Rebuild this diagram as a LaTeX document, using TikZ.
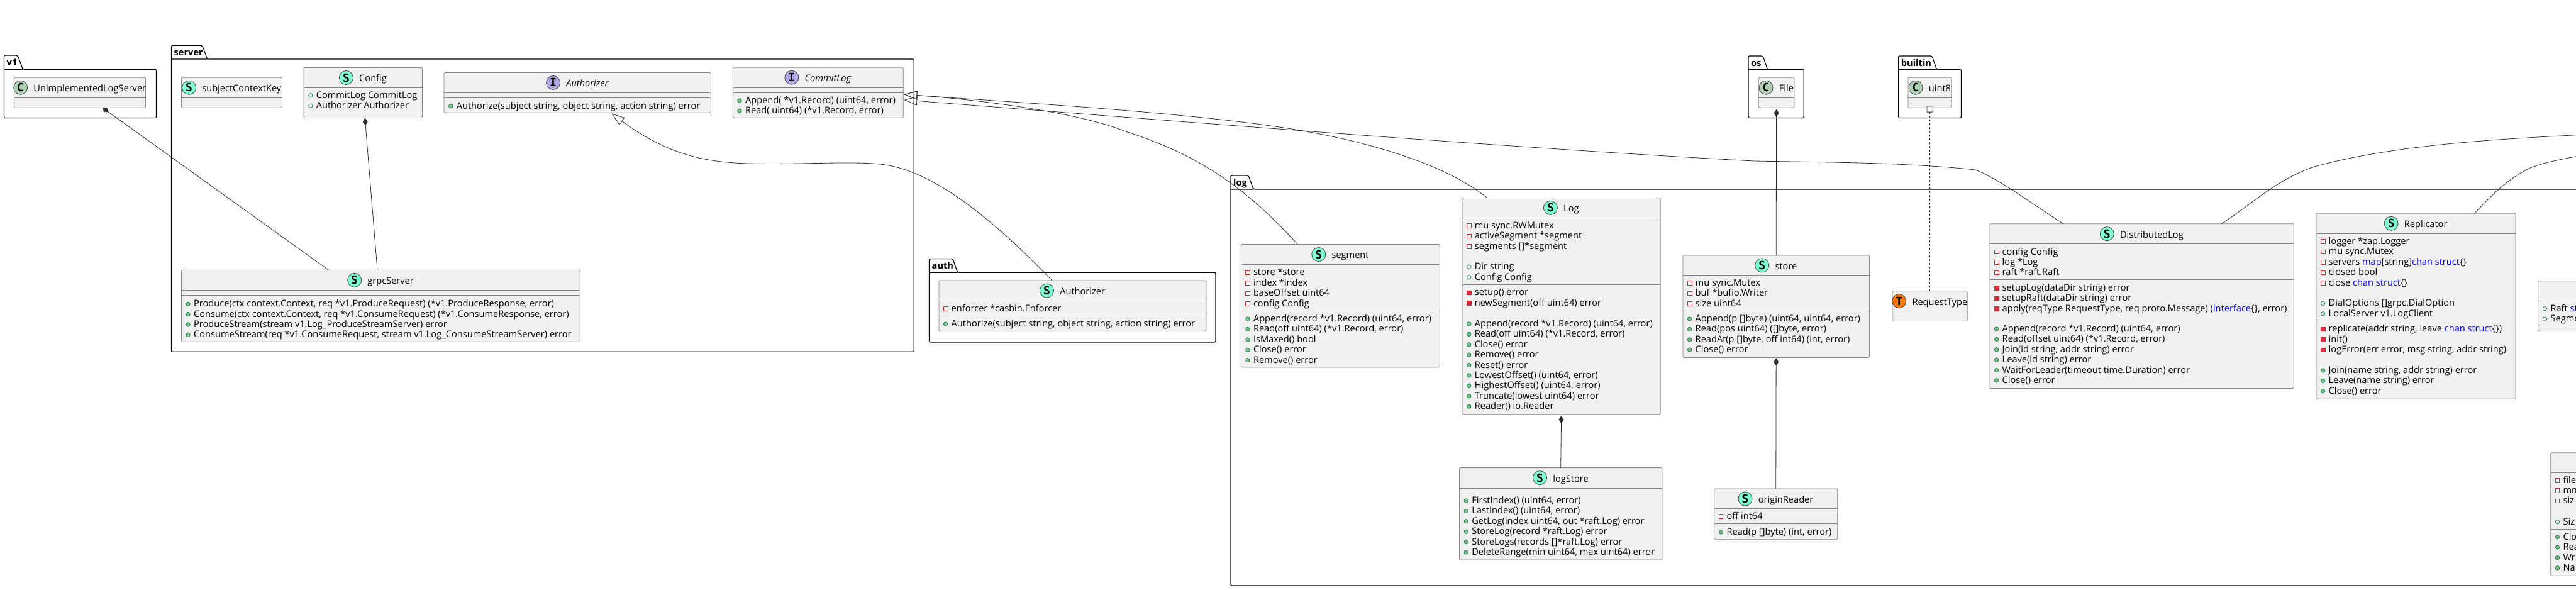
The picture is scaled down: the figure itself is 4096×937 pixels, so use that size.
\documentclass[tikz,border=0pt]{standalone}
\usepackage{fontspec}
\usetikzlibrary{arrows.meta,calc}
\setmainfont{Open Sans}
\newfontfamily\spotfont{DejaVu Sans Mono}[Scale=1]

\definecolor{boxfill}{HTML}{F1F1F1}
\definecolor{boxline}{HTML}{858585}
\definecolor{spotS}{HTML}{7FFFD4}
\definecolor{spotC}{HTML}{ADD1B2}
\definecolor{spotI}{HTML}{B4A7E5}
\definecolor{spotT}{HTML}{FF7700}
\definecolor{edgeline}{HTML}{2A2A2A}
\definecolor{publicLine}{HTML}{038048}
\definecolor{publicFill}{HTML}{84BE84}
\definecolor{privateLine}{HTML}{C82930}
\definecolor{privateFill}{HTML}{E0303E}

\newcommand{\rowfont}{\fontsize{14.6}{16}\selectfont}
\newcommand{\kw}[1]{\textcolor{blue}{#1}}

\tikzset{
    classbox/.style={draw=boxline,fill=boxfill,line width=0.8pt,rounded corners=1.5pt,
        anchor=north west,inner sep=0pt,outer sep=0pt},
    classline/.style={draw=boxline,line width=0.8pt},
    packageline/.style={draw=black,line width=1.2pt,rounded corners=2pt},
    packagelabel/.style={anchor=base west,inner sep=0pt,font=\rowfont\bfseries},
    classname/.style={anchor=base,inner sep=0pt,font=\rowfont},
    rowlabel/.style={anchor=base west,inner sep=0pt,font=\rowfont},
    spot/.style={circle,draw=black!80,line width=0.7pt,minimum size=22pt,inner sep=0pt,
        font=\fontsize{18}{18}\selectfont\spotfont\bfseries},
    publicMethod/.style={circle,draw=publicLine,fill=publicFill,line width=0.7pt,minimum size=6.5pt,inner sep=0pt},
    publicField/.style={circle,draw=publicLine,line width=0.7pt,minimum size=6.5pt,inner sep=0pt},
    privateField/.style={rectangle,draw=privateLine,line width=0.7pt,minimum size=6.5pt,inner sep=0pt},
    privateMethod/.style={rectangle,draw=privateLine,fill=privateFill,line width=0.7pt,minimum size=6.5pt,inner sep=0pt},
    edge/.style={draw=edgeline,line width=0.8pt},
    owns/.style={edge,{Diamond[length=12pt,width=8pt,fill=edgeline]}-},
    implements/.style={edge,{Triangle[open,length=21pt,width=14pt]}-},
    usesType/.style={edge,dashed,{Square[open,length=10pt,width=10pt,fill=white]}-}
}

\newcounter{rowid}

% id, left, top, right, bottom, spot letter, name, first line, second line
\newcommand{\umlclass}[9]{%
    \node[classbox,minimum width=(#4-#2)*1pt,minimum height=(#5-#3)*1pt] (#1) at (#2,#3) {};
    \draw[classline] (#2,#8) -- (#4,#8) (#2,#9) -- (#4,#9);
    \node[classname] (#1Name) at ({(#2+#4)/2+15.8},#3+22.4) {#7};
    \node[spot,fill=spot#6] (#1Spot) at ([xshift=-20.6pt,yshift=6.4pt]#1Name.base west) {#6};
}

% left edge of the class, then y/kind/text
\newcommand{\umlrows}[2]{%
    \foreach \rowy/\rowkind/\rowtext in {#2}{%
        \stepcounter{rowid}
        \node[\rowkind] (mark\arabic{rowid}) at (#1+10.7,\rowy) {};
        \node[rowlabel] (row\arabic{rowid}) at (#1+19.6,\rowy+4.5) {\rowtext};
    }%
}

% id, left, tab top, tab fold, tab right, body top, right, bottom, name
\newcommand{\umlpackage}[9]{%
    \draw[packageline] (#2,#6) -- (#2,#3) -- (#4,#3) -- (#5,#6) -- (#7,#6) -- (#7,#8) -- (#2,#8) -- cycle
        (#2,#6) -- (#5,#6);
    \node[packagelabel] (#1) at (#2+4,#3+16) {#9};
}

\begin{document}
\begin{tikzpicture}[x=1pt,y=-1pt]
    \useasboundingbox (0,0) rectangle (4096,937);
    \clip (0,0) rectangle (4096,937);

    % packages
    \umlpackage{pkgV}{6.5}{88}{28}{36.5}{110.5}{248.5}{187.5}{v1}
    \umlpackage{pkgServer}{272.5}{72.3}{321.7}{329.5}{94}{1453.3}{559.3}{server}
    \umlpackage{pkgAuth}{1477.5}{411.5}{1515}{1522.5}{433.3}{1933}{544}{auth}
    \umlpackage{pkgLog}{1957}{279}{1985}{1993}{301}{4200}{931}{log}
    \umlpackage{pkgOs}{2780}{89}{2803}{2810.5}{110.5}{2868.3}{187.5}{os}
    \umlpackage{pkgBuiltin}{3018.7}{89}{3072}{3079.3}{110.5}{3118.4}{187.5}{builtin}

    % v1, os, builtin
    \umlclass{logServer}{22.5}{123.3}{231.5}{171.3}{C}{UnimplementedLogServer}{155.3}{163.3}
    \umlclass{file}{2796.2}{123.3}{2853}{171.3}{C}{File}{155.3}{163.3}
    \umlclass{uintEight}{3033.9}{123.3}{3103.3}{171.3}{C}{uint8}{155.3}{163.3}

    % server
    \umlclass{contextKey}{288.5}{123.3}{448.5}{171.3}{S}{subjectContextKey}{155.3}{163.3}
    \umlclass{config}{483}{107.5}{671.5}{187.5}{S}{Config}{139.5}{179.5}
    \umlrows{483}{151.8/publicField/{CommitLog CommitLog}, 168.2/publicField/{Authorizer Authorizer}}
    \umlclass{authorizerIface}{706}{115.4}{1130.5}{179.3}{I}{\textit{Authorizer}}{147.4}{155.4}
    \umlrows{706}{168.5/publicMethod/{Authorize(subject string, object string, action string) error}}
    \umlclass{commitLog}{1165.3}{107.3}{1436.3}{187.3}{I}{\textit{CommitLog}}{139.3}{147.3}
    \umlrows{1165.3}{160/publicMethod/{Append( *v1.Record) (uint64, error)},
        176.2/publicMethod/{Read( uint64) (*v1.Record, error)}}
    \umlclass{grpcServer}{288.4}{429.3}{922.3}{543.3}{S}{grpcServer}{461.3}{469.3}
    \umlrows{288.4}{483.3/publicMethod/{Produce(ctx context.Context, req *v1.ProduceRequest) (*v1.ProduceResponse, error)},
        499.6/publicMethod/{Consume(ctx context.Context, req *v1.ConsumeRequest) (*v1.ConsumeResponse, error)},
        515.9/publicMethod/{ProduceStream(stream v1.Log\_ProduceStreamServer) error},
        532.2/publicMethod/{ConsumeStream(req *v1.ConsumeRequest, stream v1.Log\_ConsumeStreamServer) error}}

    % auth
    \umlclass{authorizerStruct}{1492.9}{446}{1917.9}{526.6}{S}{Authorizer}{478}{502.7}
    \umlrows{1492.9}{491/privateField/{enforcer *casbin.Enforcer},
        515/publicMethod/{Authorize(subject string, object string, action string) error}}

    % log
    \umlclass{segment}{1973.2}{388.5}{2289.3}{584}{S}{segment}{420.8}{494.3}
    \umlrows{1973.2}{433.4/privateField/{store *store}, 449.8/privateField/{index *index},
        466.2/privateField/{baseOffset uint64}, 482.6/privateField/{config Config},
        507/publicMethod/{Append(record *v1.Record) (uint64, error)},
        523.4/publicMethod/{Read(off uint64) (*v1.Record, error)},
        539.8/publicMethod/{IsMaxed() bool}, 556.2/publicMethod/{Close() error},
        572.6/publicMethod/{Remove() error}}

    \umlclass{logStruct}{2325}{314.4}{2640.2}{658.7}{S}{Log}{346.7}{452.5}
    \umlrows{2325}{359/privateField/{mu sync.RWMutex}, 375.4/privateField/{activeSegment *segment},
        391.8/privateField/{segments []*segment},
        424.4/publicField/{Dir string}, 440.8/publicField/{Config Config},
        465.4/privateMethod/{setup() error}, 481.8/privateMethod/{newSegment(off uint64) error},
        515/publicMethod/{Append(record *v1.Record) (uint64, error)},
        531.4/publicMethod/{Read(off uint64) (*v1.Record, error)},
        547.8/publicMethod/{Close() error}, 564.2/publicMethod/{Remove() error},
        580.6/publicMethod/{Reset() error}, 597/publicMethod/{LowestOffset() (uint64, error)},
        613.4/publicMethod/{HighestOffset() (uint64, error)},
        629.8/publicMethod/{Truncate(lowest uint64) error}, 646.2/publicMethod/{Reader() io.Reader}}

    \umlclass{logStore}{2320.5}{743.6}{2642.9}{890}{S}{logStore}{775.9}{783.5}
    \umlrows{2320.5}{796/publicMethod/{FirstIndex() (uint64, error)},
        812.4/publicMethod/{LastIndex() (uint64, error)},
        828.8/publicMethod/{GetLog(index uint64, out *raft.Log) error},
        845.2/publicMethod/{StoreLog(record *raft.Log) error},
        861.6/publicMethod/{StoreLogs(records []*raft.Log) error},
        878/publicMethod/{DeleteRange(min uint64, max uint64) error}}

    \umlclass{store}{2675.9}{405.9}{2972.4}{568.4}{S}{store}{437.6}{494.3}
    \umlrows{2675.9}{450/privateField/{mu sync.Mutex}, 466.4/privateField/{buf *bufio.Writer},
        482.8/privateField/{size uint64},
        507/publicMethod/{Append(p []byte) (uint64, uint64, error)},
        523.4/publicMethod/{Read(pos uint64) ([]byte, error)},
        539.8/publicMethod/{ReadAt(p []byte, off int64) (int, error)},
        556.2/publicMethod/{Close() error}}

    \umlclass{originReader}{2725.8}{777}{2921.7}{857.7}{S}{originReader}{808.7}{832.6}
    \umlrows{2725.8}{821/privateField/{off int64}, 846/publicMethod/{Read(p []byte) (int, error)}}

    \umlclass{requestType}{3008.9}{462.6}{3128.2}{510.5}{T}{RequestType}{494.3}{502.4}

    \umlclass{distributedLog}{3163.9}{355.7}{3647.3}{617.5}{S}{DistributedLog}{387.3}{444.7}
    \umlrows{3163.9}{400.5/privateField/{config Config}, 416.9/privateField/{log *Log},
        433.3/privateField/{raft *raft.Raft},
        458/privateMethod/{setupLog(dataDir string) error},
        474.4/privateMethod/{setupRaft(dataDir string) error},
        490.8/privateMethod/{apply(reqType RequestType, req proto.Message) (\kw{interface}\{\}, error)},
        523/publicMethod/{Append(record *v1.Record) (uint64, error)},
        539.4/publicMethod/{Read(offset uint64) (*v1.Record, error)},
        555.8/publicMethod/{Join(id string, addr string) error},
        572.2/publicMethod/{Leave(id string) error},
        588.6/publicMethod/{WaitForLeader(timeout time.Duration) error},
        605/publicMethod/{Close() error}}

    \umlclass{replicator}{3682.9}{339.3}{3999.9}{634.3}{S}{Replicator}{371.3}{510.7}
    \umlrows{3682.9}{384/privateField/{logger *zap.Logger}, 400.4/privateField/{mu sync.Mutex},
        416.8/privateField/{servers \kw{map}[string]\kw{chan struct}\{\}},
        433.2/privateField/{closed bool}, 449.6/privateField/{close \kw{chan struct}\{\}},
        482.4/publicField/{DialOptions []grpc.DialOption}, 498.8/publicField/{LocalServer v1.LogClient},
        523.4/privateMethod/{replicate(addr string, leave \kw{chan struct}\{\})},
        539.8/privateMethod/{init()},
        556.2/privateMethod/{logError(err error, msg string, addr string)},
        589/publicMethod/{Join(name string, addr string) error},
        605.4/publicMethod/{Leave(name string) error},
        621.8/publicMethod/{Close() error}}

    % the two boxes that run off the right edge
    \node[classbox,minimum width=200pt,minimum height=80pt] (rightConfig) at (4035.7,446.7) {};
    \draw[classline] (4035.7,478.3) -- (4300,478.3) (4035.7,518.3) -- (4300,518.3);
    \umlrows{4035.7}{490.7/publicField/{Raft \kw{st}}, 507/publicField/{Segme}}
    \node[classbox,minimum width=200pt,minimum height=195.6pt] (rightFile) at (4055.7,719.7) {};
    \draw[classline] (4055.7,751.3) -- (4300,751.3) (4055.7,841.3) -- (4300,841.3);
    \umlrows{4055.7}{763.7/privateField/{file}, 780/privateField/{mm}, 796.3/privateField/{siz},
        829.7/publicField/{Siz},
        853.7/publicMethod/{Clo}, 870.2/publicMethod/{Rea}, 886.6/publicMethod/{Wri},
        903/publicMethod/{Na}}

    % compositions
    \draw[owns] ([xshift=36pt]logServer.south) -- ([xshift=-83pt]grpcServer.north);
    \draw[owns] ([xshift=3pt]config.south) -- ([xshift=-5.3pt]grpcServer.north);
    \draw[owns] ([yshift=-2.5pt]logStruct.south) -- (logStore.north);
    \draw[owns] ([yshift=-2.5pt]file.south) -- (store.north);
    \draw[owns] ([yshift=-1pt]store.south) -- (originReader.north);
    \draw[usesType] ([yshift=2.8pt]uintEight.south) -- (requestType.north);

    % implementations
    \draw[implements] ([xshift=54pt,yshift=-1pt]authorizerIface.south)
        .. controls (1060,245) and (1120,258) .. (1190,260)
        .. controls (1270,262) and (1350,256) .. (1400,261)
        .. controls (1480,270) and (1570,340) .. ([xshift=-32.4pt]authorizerStruct.north);
    \draw[implements] ([xshift=1pt,yshift=-2.8pt]commitLog.east)
        .. controls (1600,162) and (1730,185) .. (1787,208)
        .. controls (1885,240) and (1965,280) .. ([xshift=-68pt]segment.north);
    \draw[implements] ([xshift=1pt,yshift=-2.8pt]commitLog.east)
        .. controls (1650,165) and (1900,180) .. (2060,206)
        .. controls (2180,226) and (2300,262) .. ([xshift=-118.3pt]logStruct.north);
    \draw[implements] ([xshift=1pt,yshift=-11.5pt]commitLog.east)
        .. controls (1900,195) and (2400,235) .. (2789,256)
        .. controls (2900,258) and (3030,258) .. (3140.7,270)
        .. controls (3175,282) and (3240,330) .. ([xshift=-125pt]distributedLog.north);

    % these two go on past the right edge
    \coordinate (configOut) at (4110,214);
    \coordinate (raftOut) at (4110,246);
    \draw[edge] ([xshift=126.8pt]distributedLog.north)
        .. controls (3580,325) and (3620,285) .. (3680,265)
        .. controls (3800,232) and (3950,222) .. (configOut);
    \draw[edge] ([xshift=93pt]replicator.north)
        .. controls (3960,312) and (3990,282) .. (4022.7,267.3)
        .. controls (4045,258) and (4070,254) .. (raftOut);
\end{tikzpicture}
\end{document}
